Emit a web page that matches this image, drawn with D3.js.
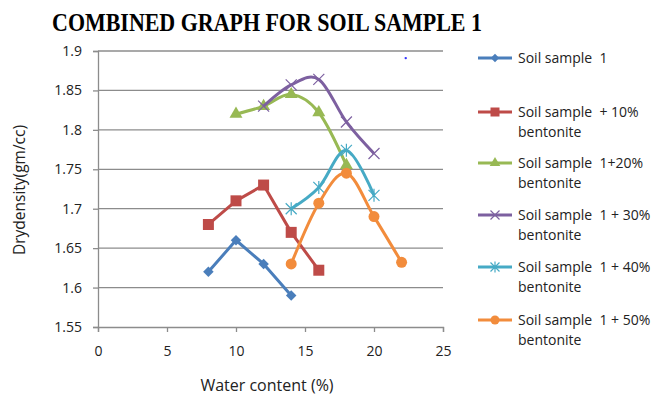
<!DOCTYPE html>
<html>
<head>
<meta charset="utf-8">
<script src="https://cdn.jsdelivr.net/npm/d3@7"></script>
<style>
  body { margin: 0; background: #fff; }
  text { font-family: "Open Sans", "Noto Sans", sans-serif; }
</style>
</head>
<body>
<svg width="659" height="396"></svg>
<script>
// water content (%) for each series
var xSoil = [8, 10, 12, 14];
var xB10 = [8, 10, 12, 14, 16];
var xB20 = [10, 12, 14, 16, 18];
var xB30 = [12, 14, 16, 18, 20];
var xB40 = [14, 16, 18, 20];
var xB50 = [14, 16, 18, 20, 22];

// dry density (gm/cc)
var ySoil = [1.62, 1.66, 1.63, 1.59];
var yB10 = [1.68, 1.71, 1.73, 1.67, 1.622];
var yB20 = [1.82, 1.83, 1.845, 1.822, 1.755];
var yB30 = [1.83, 1.857, 1.864, 1.81, 1.77];
var yB40 = [1.70, 1.727, 1.774, 1.717];
var yB50 = [1.63, 1.707, 1.745, 1.69, 1.632];

var seriesNames = ["Soil sample  1", "Soil sample  + 10%|bentonite", "Soil sample  1+20%|bentonite",
  "Soil sample  1 + 30%|bentonite", "Soil sample  1 + 40%|bentonite", "Soil sample  1 + 50%|bentonite"];
var xTicks = [0, 5, 10, 15, 20, 25];
var yTicks = [1.55, 1.6, 1.65, 1.7, 1.75, 1.8, 1.85, 1.9];
var strayDot = [[22.3, 1.891]];

var colors = ["#4A7EBB", "#BE4B48", "#98B954", "#7D60A0", "#46AAC5", "#F28C3C"];
var symbols = ["diamond", "square", "triangle", "x", "star", "circle"];
var smooth = [false, false, true, true, true, true];

var xs = [xSoil, xB10, xB20, xB30, xB40, xB50];
var ys = [ySoil, yB10, yB20, yB30, yB40, yB50];
var series = seriesNames.map(function(n, i) {
  return { name: n, pts: xs[i].map(function(v, j) { return [v, ys[i][j]]; }) };
});

var svg = d3.select("svg");
var plotLeft = 98, plotRight = 443, plotTop = 51, plotBottom = 327;

var x = d3.scaleLinear().domain([0, 25]).range([plotLeft, plotRight]);
var y = d3.scaleLinear().domain([1.55, 1.9]).range([plotBottom, plotTop]);

// title (squeezed a bit horizontally like the original)
svg.append("text")
  .attr("transform", "translate(267,31) scale(0.845,1)")
  .attr("text-anchor", "middle")
  .style("font-family", "'Liberation Serif', serif")
  .style("font-weight", "bold")
  .style("font-size", "26px")
  .text("COMBINED GRAPH FOR SOIL SAMPLE 1");

// gridlines
svg.append("g").selectAll("line")
  .data(yTicks.slice(1))
  .enter().append("line")
  .attr("x1", plotLeft).attr("x2", plotRight)
  .attr("y1", function(d) { return y(d); }).attr("y2", function(d) { return y(d); })
  .attr("stroke", "#8c8c8c").attr("stroke-width", 1.3);

var xAxis = svg.append("g")
  .attr("transform", "translate(0," + plotBottom + ")")
  .call(d3.axisBottom(x).tickValues(xTicks).tickSize(5).tickPadding(14).tickFormat(d3.format("d")));
var yAxis = svg.append("g")
  .attr("transform", "translate(" + plotLeft + ",0)")
  .call(d3.axisLeft(y).tickValues(yTicks).tickSize(5).tickPadding(11).tickFormat(function(d) { return String(+d.toFixed(2)); }));

[xAxis, yAxis].forEach(function(a) {
  a.select(".domain").attr("stroke", "#8c8c8c").attr("stroke-width", 1.3);
  a.selectAll(".tick line").attr("stroke", "#8c8c8c").attr("stroke-width", 1.3);
  a.selectAll(".tick text").style("font-size", "14px").attr("fill", "#222")
    .style("font-family", "'Open Sans', sans-serif");
});

// axis titles
svg.append("text")
  .attr("x", 267).attr("y", 385)
  .attr("dy", "0.35em")
  .attr("text-anchor", "middle")
  .style("font-size", "16px").attr("fill", "#222")
  .text("Water content (%)");
svg.append("text")
  .attr("transform", "translate(20,190) rotate(-90)")
  .attr("dy", "0.35em")
  .attr("text-anchor", "middle")
  .style("font-size", "15.5px").attr("fill", "#222")
  .text("Drydensity(gm/cc)");

function drawMarker(g, type, color, size) {
  if (type === "diamond") {
    g.append("path").attr("d", d3.symbol().type(d3.symbolSquare).size(size * size * 0.55)())
      .attr("transform", "rotate(45)").attr("fill", color);
  } else if (type === "square") {
    g.append("path").attr("d", d3.symbol().type(d3.symbolSquare).size(size * size)()).attr("fill", color);
  } else if (type === "triangle") {
    g.append("path").attr("d", d3.symbol().type(d3.symbolTriangle).size(size * size * 0.6)()).attr("fill", color);
  } else if (type === "circle") {
    g.append("circle").attr("r", size / 2).attr("fill", color);
  } else if (type === "x") {
    var h = size / 2;
    g.append("path").attr("d", "M" + (-h) + "," + (-h) + "L" + h + "," + h + "M" + (-h) + "," + h + "L" + h + "," + (-h))
      .attr("stroke", color).attr("stroke-width", 1.2).attr("fill", "none");
  } else if (type === "star") {
    var s = size / 2;
    g.append("path").attr("d", "M" + (-s) + "," + (-s) + "L" + s + "," + s + "M" + (-s) + "," + s + "L" + s + "," + (-s) + "M0," + (-s - 1) + "L0," + (s + 1))
      .attr("stroke", color).attr("stroke-width", 1.2).attr("fill", "none");
  }
}

var markerSize = [10, 11, 11, 11, 11, 11];

series.forEach(function(s, i) {
  var line = d3.line()
    .x(function(d) { return x(d[0]); })
    .y(function(d) { return y(d[1]); })
    .curve(smooth[i] ? d3.curveCardinal.tension(0) : d3.curveLinear);
  svg.append("path")
    .datum(s.pts)
    .attr("d", line)
    .attr("fill", "none")
    .attr("stroke", colors[i])
    .attr("stroke-width", 3)
    .attr("stroke-linejoin", "round");
  s.pts.forEach(function(p) {
    var g = svg.append("g").attr("transform", "translate(" + x(p[0]) + "," + y(p[1]) + ")");
    drawMarker(g, symbols[i], colors[i], markerSize[i]);
  });
});

// stray dot
svg.selectAll(".stray").data(strayDot).enter().append("circle")
  .attr("class", "stray")
  .attr("cx", function(d) { return x(d[0]); })
  .attr("cy", function(d) { return y(d[1]); })
  .attr("r", 1.2).attr("fill", "#3333ff");

// legend
var legendY = [58, 112, 163, 215, 267, 320];
series.forEach(function(s, i) {
  var g = svg.append("g").attr("transform", "translate(0," + legendY[i] + ")");
  g.append("line").attr("x1", 478).attr("x2", 512).attr("y1", 0).attr("y2", 0)
    .attr("stroke", colors[i]).attr("stroke-width", 3);
  var m = g.append("g").attr("transform", "translate(495,0)");
  drawMarker(m, symbols[i], colors[i], markerSize[i] - 2);
  var lines = s.name.split("|");
  lines.forEach(function(t, k) {
    g.append("text")
      .attr("x", 518).attr("y", k * 20)
      .attr("dy", "0.35em")
      .style("font-size", "14px").attr("fill", "#222")
      .style("white-space", "pre")
      .text(t);
  });
});
</script>
</body>
</html>
